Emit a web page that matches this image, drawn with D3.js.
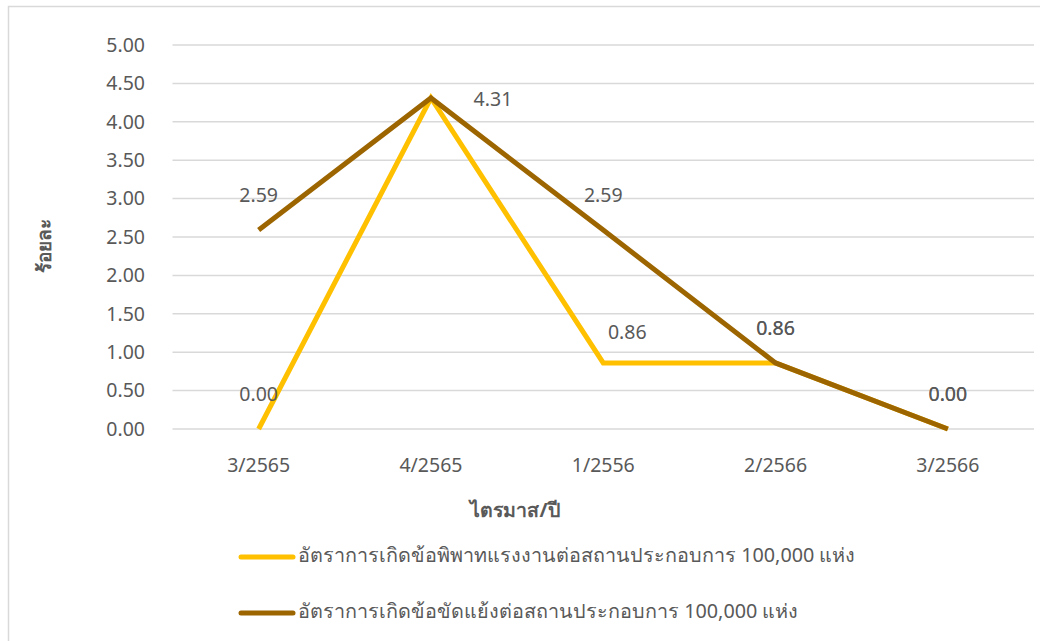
<!DOCTYPE html>
<html><head><meta charset="utf-8">
<script src="https://cdn.jsdelivr.net/npm/d3@7"></script>
<style>
html,body{margin:0;padding:0;background:#fff;}
text{font-family:"Noto Sans","Open Sans",sans-serif;fill:#595959;}
</style></head>
<body><svg id="c" width="1040" height="641"></svg>
<script>
const categories = ["3/2565","4/2565","1/2556","2/2566","3/2566"];
const disputeRate = [0.00, 4.31, 0.86, 0.86, 0.00];
const conflictRate = [2.59, 4.31, 2.59, 0.86, 0.00];
const seriesNames = ["อัตราการเกิดข้อพิพาทแรงงานต่อสถานประกอบการ 100,000 แห่ง","อัตราการเกิดข้อขัดแย้งต่อสถานประกอบการ 100,000 แห่ง"];
const yTicks = [0,0.5,1,1.5,2,2.5,3,3.5,4,4.5,5];
const colors = ["#FFC000","#9C6500"];
const series = [disputeRate, conflictRate];

const svg = d3.select("#c");
svg.append("rect").attr("x",8.5).attr("y",6.5).attr("width",1040).attr("height",650)
  .attr("fill","none").attr("stroke","#d9d9d9").attr("stroke-width",1.5);

const x = d3.scaleBand().domain(categories).range([172.5,1034]);
const y = d3.scaleLinear().domain([0,5]).range([429,45]);

svg.append("g").selectAll("line").data(yTicks).join("line")
  .attr("x1",172.5).attr("x2",1034).attr("y1",d=>y(d)).attr("y2",d=>y(d))
  .attr("stroke","#d9d9d9").attr("stroke-width",1.5);

const yAxis = svg.append("g").attr("transform","translate(145,0)")
  .call(d3.axisLeft(y).tickValues(yTicks).tickFormat(d3.format(".2f")).tickSize(0).tickPadding(0));
yAxis.select(".domain").remove();
yAxis.selectAll("text").style("font-size","19.5px").attr("fill","#595959");

const xAxis = svg.append("g").attr("transform","translate(0,458)")
  .call(d3.axisBottom(x).tickSize(0).tickPadding(0));
xAxis.select(".domain").remove();
xAxis.selectAll("text").style("font-size","19.5px").attr("fill","#595959").attr("dy","0.71em");

const cx = d => x(d) + x.bandwidth()/2;
const line = d3.line().x((d,i)=>cx(categories[i])).y(d=>y(d));
series.forEach((s,k)=>{
  svg.append("path").datum(s).attr("d",line).attr("fill","none")
    .attr("stroke",colors[k]).attr("stroke-width",5).attr("stroke-linejoin","miter");
});

// data labels (yellow peak label is hidden behind the brown one in the reference)
function labelPos(k,i,v){
  const s = series[k];
  const isPeak = i>0 && i<s.length-1 && v>s[i-1] && v>s[i+1];
  if (isPeak) return k===1 ? [cx(categories[i])+62, y(v)+3] : null;
  if (k===0 && i>0 && s[i-1] > v && s[i+1] === v) return [cx(categories[i])+24, y(v)-29];
  return [cx(categories[i]), y(v)-33];
}
series.forEach((s,k)=>{
  const pts = s.map((d,i)=>({v:d,p:labelPos(k,i,d)})).filter(o=>o.p);
  svg.append("g").selectAll("text").data(pts).join("text")
    .attr("x",o=>o.p[0]).attr("y",o=>o.p[1])
    .attr("text-anchor","middle").attr("dominant-baseline","middle")
    .style("font-size","19.5px").attr("fill", k===0 ? "#595959" : "#404040")
    .text(o=>d3.format(".2f")(o.v));
});

svg.append("text").attr("transform","translate(46,246) rotate(-90)")
  .attr("text-anchor","middle").attr("dominant-baseline","middle")
  .style("font-size","19px").style("font-weight","bold").text("ร้อยละ");
svg.append("text").attr("x",515).attr("y",512)
  .attr("text-anchor","middle").attr("dominant-baseline","middle")
  .style("font-size","19.5px").style("font-weight","bold").text("ไตรมาส/ปี");

const legY = [557, 613];
seriesNames.forEach((n,k)=>{
  svg.append("line").attr("x1",241).attr("x2",293).attr("y1",legY[k]).attr("y2",legY[k])
    .attr("stroke",colors[k]).attr("stroke-width",5).attr("stroke-linecap","round");
  svg.append("text").attr("x",298).attr("y",legY[k]).attr("dominant-baseline","middle")
    .style("font-size","19.8px").text(n);
});
</script></body></html>
